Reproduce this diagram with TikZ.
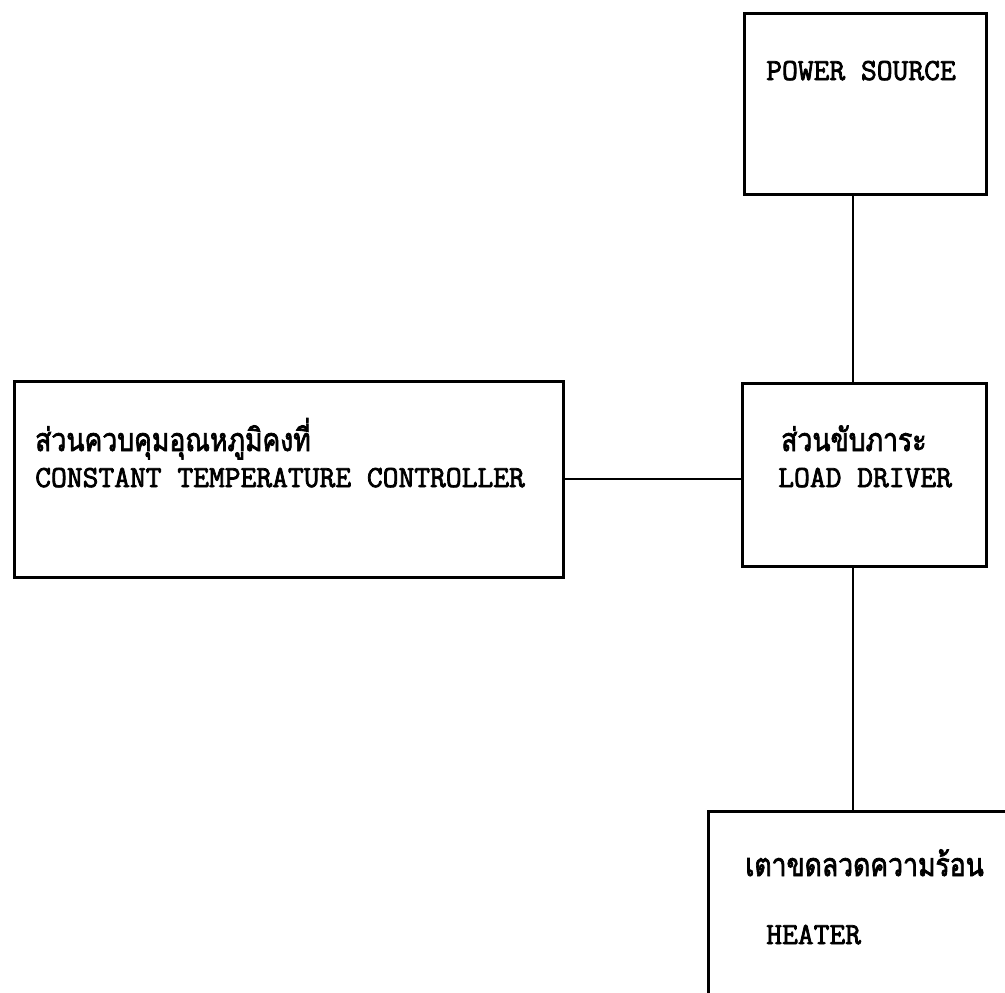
\documentclass[tikz,border=0pt]{standalone}
\usepackage{fontspec}
\newfontfamily\thaif[Script=Thai,FakeBold=2.5]{Loma}
\newfontfamily\monof[FakeBold=2.5]{Latin Modern Mono}
\begin{document}
\begin{tikzpicture}[x=0.75pt,y=-0.75pt,
  box/.style={draw, line width=2pt, inner sep=0pt, anchor=north west},
  link/.style={line width=1.7pt},
  en/.style={inner sep=0pt, anchor=base west, font=\monof\fontsize{23pt}{26pt}\selectfont},
  th/.style={inner sep=0pt, anchor=base west, font=\thaif\fontsize{24pt}{28pt}\selectfont}]
\useasboundingbox (0,0) rectangle (1005,992);
\clip (0,0) rectangle (1005,992);
% boxes
\node[box, minimum width=181.5pt, minimum height=135.75pt] (power) at (743,12) {};
\node[box, minimum width=183pt, minimum height=137.25pt] (driver) at (741,382) {};
\node[box, minimum width=412pt, minimum height=147pt] (ctrl) at (13,380) {};
\node[box, minimum width=249.75pt, minimum height=172.5pt] (heater) at (707,810) {};
% texts
\node[en] (tpower) at (766,80) {POWER SOURCE};
\node[th] (tctrlth) at (35,451) {\scalebox{0.83}[1]{ส่วนควบคุมอุณหภูมิคงที่}};
\node[en] (tctrl) at (35,487) {CONSTANT TEMPERATURE CONTROLLER};
\node[th] (tdrvth) at (781,451) {\scalebox{0.83}[1]{ส่วนขับภาระ}};
\node[en] (tdrv) at (778,487) {LOAD DRIVER};
\node[th] (theatth) at (745,876) {\scalebox{0.83}[1]{เตาขดลวดความร้อน}};
\node[en] (theat) at (766,944) {HEATER};
% connectors
\coordinate (v1) at (853,0);
\coordinate (v2) at (853,0);
\draw[link] (power.south -| v1) -- (driver.north -| v1);
\draw[link] (driver.south -| v2) -- (heater.north -| v2);
\draw[link] (ctrl.east) -- (ctrl.east -| driver.west);
\end{tikzpicture}
\end{document}
